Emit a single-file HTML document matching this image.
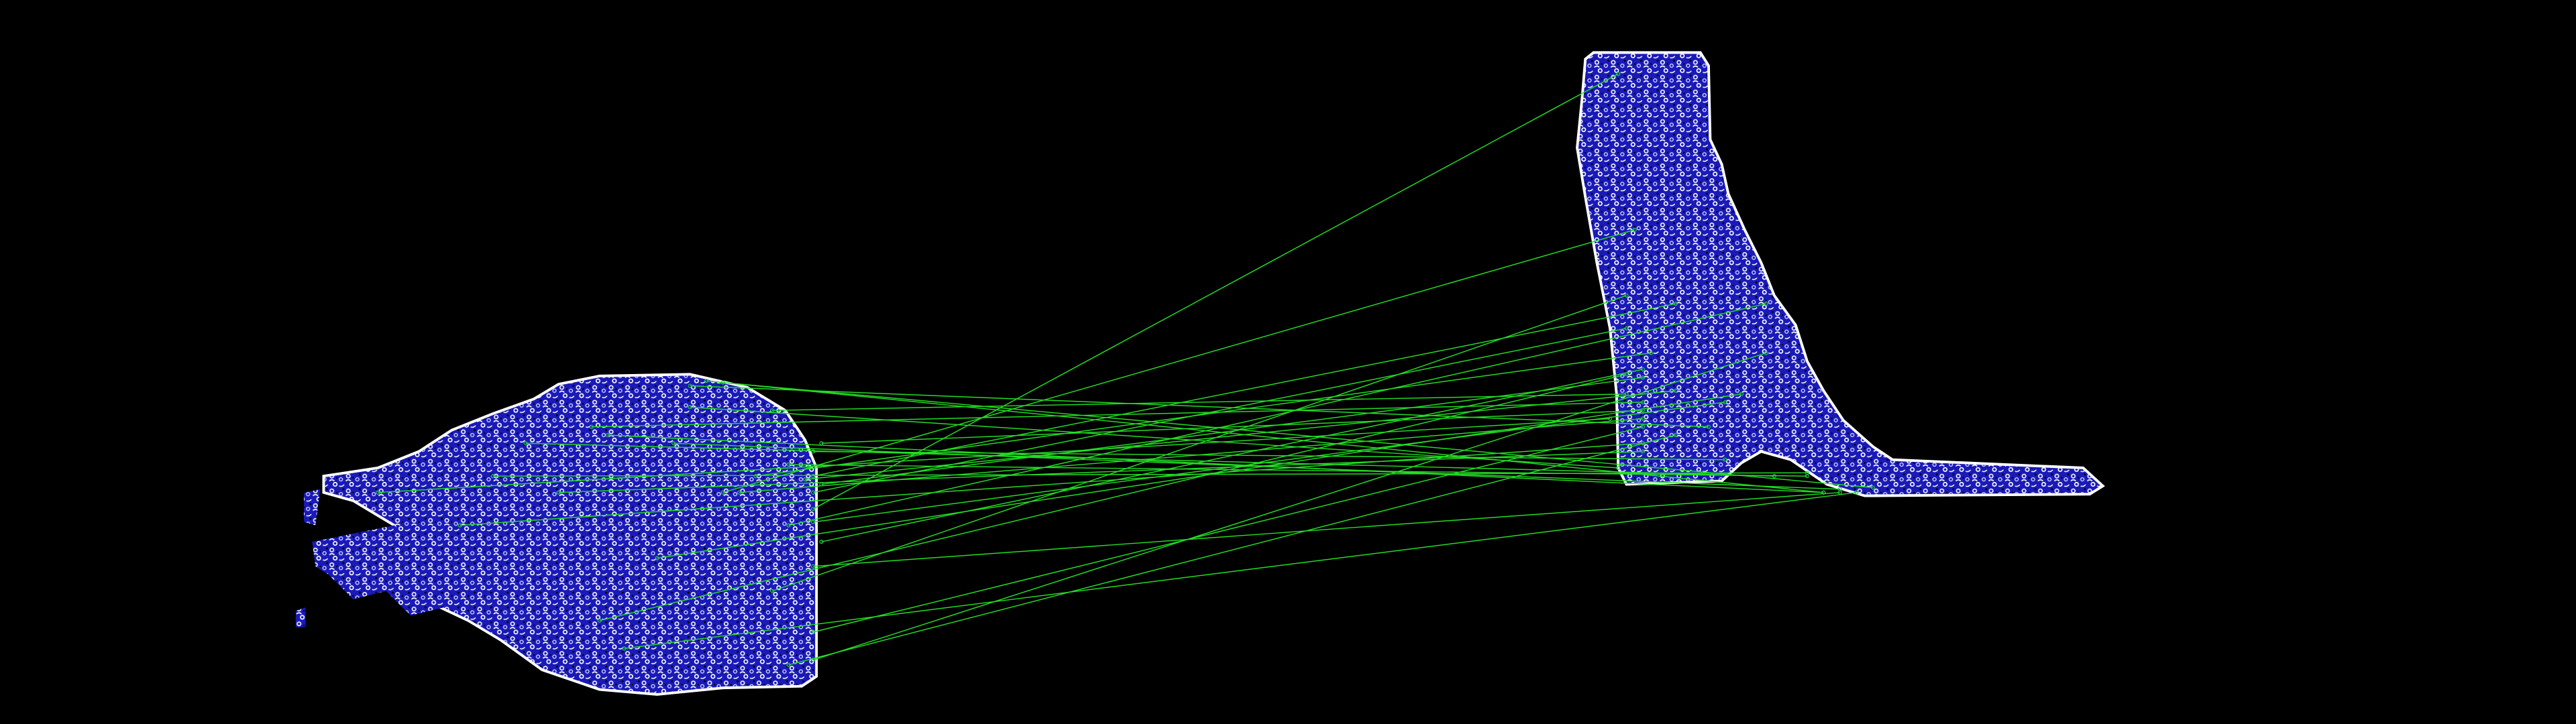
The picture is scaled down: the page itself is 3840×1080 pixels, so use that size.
<!DOCTYPE html>
<html><head><meta charset="utf-8"><style>
html,body{margin:0;padding:0;background:#000;width:3840px;height:1080px;overflow:hidden}
svg{display:block}
</style></head><body>
<svg width="3840" height="1080" viewBox="0 0 1568 441" preserveAspectRatio="none" xmlns="http://www.w3.org/2000/svg">
<defs>
<pattern id="tex" width="10" height="9" patternUnits="userSpaceOnUse">
<rect width="10" height="9" fill="#1a1ab8"/>
<circle cx="2" cy="2" r="1.1" fill="none" stroke="#f0f0ff" stroke-width="0.7"/>
<circle cx="7.5" cy="4" r="1" fill="none" stroke="#c8c8ff" stroke-width="0.6"/>
<circle cx="4" cy="7" r="1.1" fill="none" stroke="#ffffff" stroke-width="0.7"/>
<path d="M0.5 5 q1.5 -1.5 3 0" stroke="#fff" stroke-width="0.7" fill="none"/>
<path d="M6.5 8 q1.5 0.8 3 -0.8" stroke="#fff" stroke-width="0.6" fill="none"/>
<circle cx="9" cy="1" r="0.6" fill="#000"/>
<circle cx="5" cy="3" r="0.5" fill="#000"/>
</pattern>
</defs>
<rect width="1568" height="441" fill="#000"/>
<g>
<path fill="url(#tex)" stroke="#fff" stroke-width="1.6"
 d="M197 290 L230 285 L255 275 L275 262 L300 252 L325 243 L340 234 L365 229 L420 228 L455 236 L478 250 L490 268 L497 285 L497 412 L488 418 L440 419 L400 423 L365 420 L330 408 L305 390 L285 378 L268 370 L250 345 L240 320 L215 305 L197 300 Z"/>
<path fill="url(#tex)" d="M185 300 L195 298 L192 320 L185 318 Z M190 330 L240 320 L265 345 L270 370 L250 375 L235 360 L215 365 L200 350 L192 345 Z M180 372 L186 370 L186 382 L180 382 Z"/>
</g>
<g>
<path fill="url(#tex)" stroke="#fff" stroke-width="1.6"
 d="M970 32 L1035 32 L1040 40 L1041 85 L1048 100 L1052 118 L1062 140 L1072 160 L1080 180 L1093 198 L1100 220 L1110 238 L1122 256 L1140 272 L1152 280 L1268 285 L1280 296 L1272 301 L1135 302 L1112 295 L1090 280 L1072 275 L1060 282 L1048 293 L990 295 L985 285 L984 240 L980 200 L972 160 L965 120 L960 90 L963 60 L965 36 Z"/>
</g>
<g id="matches"></g>
</svg>
<script>
const leftX=[430,440,470,360,370,410,460,450,495,495,495,480,500,400,365,380,495,495,480,440,420,500,495,420,300,320,340,490,480,495,230,280,495,470,500];
const leftY=[232,233,250,260,265,270,290,300,290,300,310,320,330,340,378,395,385,402,405,300,235,270,275,248,290,270,300,292,283,318,300,320,345,360,295];
const rightX=[1110,1140,990,1000,1110,1120,1005,1000,1020,990,985,1075,1000,1060,990,1130,1000,1075,1020,995,1040,1000,1050,985,1100,1080,1000,1020,1100,1050,980,1000,1120,990,1000];
const rightY=[300,297,240,245,300,298,215,255,185,200,45,185,225,240,228,300,260,215,265,140,260,250,280,285,288,290,275,238,290,245,255,270,300,180,230];
const g=document.getElementById('matches');
const NS='http://www.w3.org/2000/svg';
for(let i=0;i<leftX.length;i++){
  const l=document.createElementNS(NS,'line');
  l.setAttribute('x1',leftX[i]);l.setAttribute('y1',leftY[i]);
  l.setAttribute('x2',rightX[i]);l.setAttribute('y2',rightY[i]);
  l.setAttribute('stroke','#22dd22');l.setAttribute('stroke-width','0.6');
  
  
  g.appendChild(l);
  [[leftX[i],leftY[i]],[rightX[i],rightY[i]]].forEach(p=>{
    const c=document.createElementNS(NS,'circle');
    c.setAttribute('cx',p[0]);c.setAttribute('cy',p[1]);c.setAttribute('r','1');
    c.setAttribute('fill','none');c.setAttribute('stroke','#22cc44');c.setAttribute('stroke-width','0.5');
    
    
    g.appendChild(c);
  });
}
</script>
</body></html>
